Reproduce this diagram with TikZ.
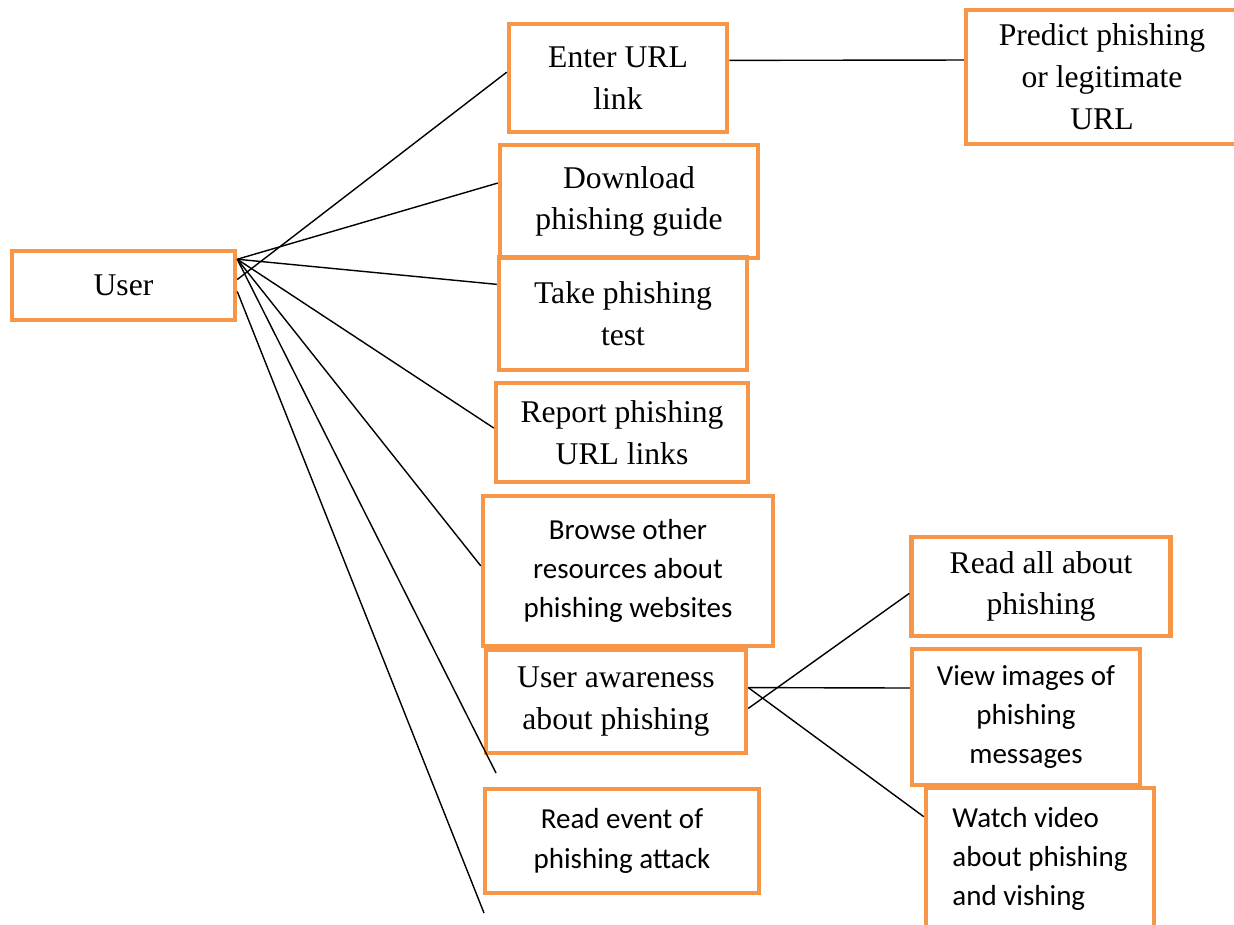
\documentclass[tikz,border=0pt]{standalone}
\usepackage{fontspec}
\setmainfont{Liberation Serif}
\newfontfamily\calibri{Carlito}
\usepackage{xcolor}
\usetikzlibrary{positioning}
\definecolor{boxorange}{HTML}{F79646}

\begin{document}
\begin{tikzpicture}[x=0.02cm,y=-0.02cm,
  box/.style={rectangle,draw=boxorange,line width=0.09cm,align=center,inner sep=0pt},
  serifbox/.style={box,font=\fontsize{18}{23.8}\selectfont},
  sansbox/.style={box,font=\calibri\fontsize{16.5}{22.4}\selectfont},
  wh/.style 2 args={minimum width=#1*0.02cm,minimum height=#2*0.02cm},
  link/.style={draw,line width=0.8pt}]
\clip (0,0) rectangle (1234,925);
% the actor
\node[serifbox,wh={223}{69}](user) at (123.5,285.5){User};
% use cases
\node[serifbox,wh={218}{108}](enter) at (618,78){Enter URL\\link};
\node[serifbox,wh={272}{134}](predict) at (1102,77){Predict phishing\\or legitimate\\URL};
\node[serifbox,wh={258}{113}](download) at (629,201.5){Download\\phishing guide};
\node[serifbox,wh={248}{113}](test) at (623,313.5){Take phishing\\test};
\node[serifbox,wh={252}{99}](report) at (622,432.5){Report phishing\\URL links};
\node[sansbox,wh={290}{150}](browse) at (628,571){Browse other\\resources about\\phishing websites};
\node[serifbox,wh={260}{103}](aware) at (616,701.5){User awareness\\about phishing};
\node[sansbox,wh={274}{104}](event) at (622,841){Read event of\\phishing attack};
% awareness sub-cases
\node[serifbox,wh={259}{99}](readall) at (1041,586.5){Read all about\\phishing};
\node[sansbox,wh={228}{136}](images) at (1026,717){View images of\\phishing\\messages};
\node[sansbox,wh={228}{142},align=left](watch) at (1040,859){Watch video\\about phishing\\and vishing};
% loose ends
\coordinate (endA) at (496,773);
\coordinate (endB) at (484,913);
% links
\draw[link](user.3)--(enter.177);
\draw[link](user.13)--(download.172);
\draw[link](user.13)--(test.167);
\draw[link](user.13)--(report.178);
\draw[link](user.13)--(browse.178);
\draw[link](user.13)--(endA);
\draw[link](user.-3)--(endB);
\draw[link](enter.9)--(predict.173);
\draw[link](aware.-3)--(readall.183);
\draw[link](aware.6)--(images.166);
\draw[link](aware.6)--(watch.160);
\end{tikzpicture}
\end{document}
